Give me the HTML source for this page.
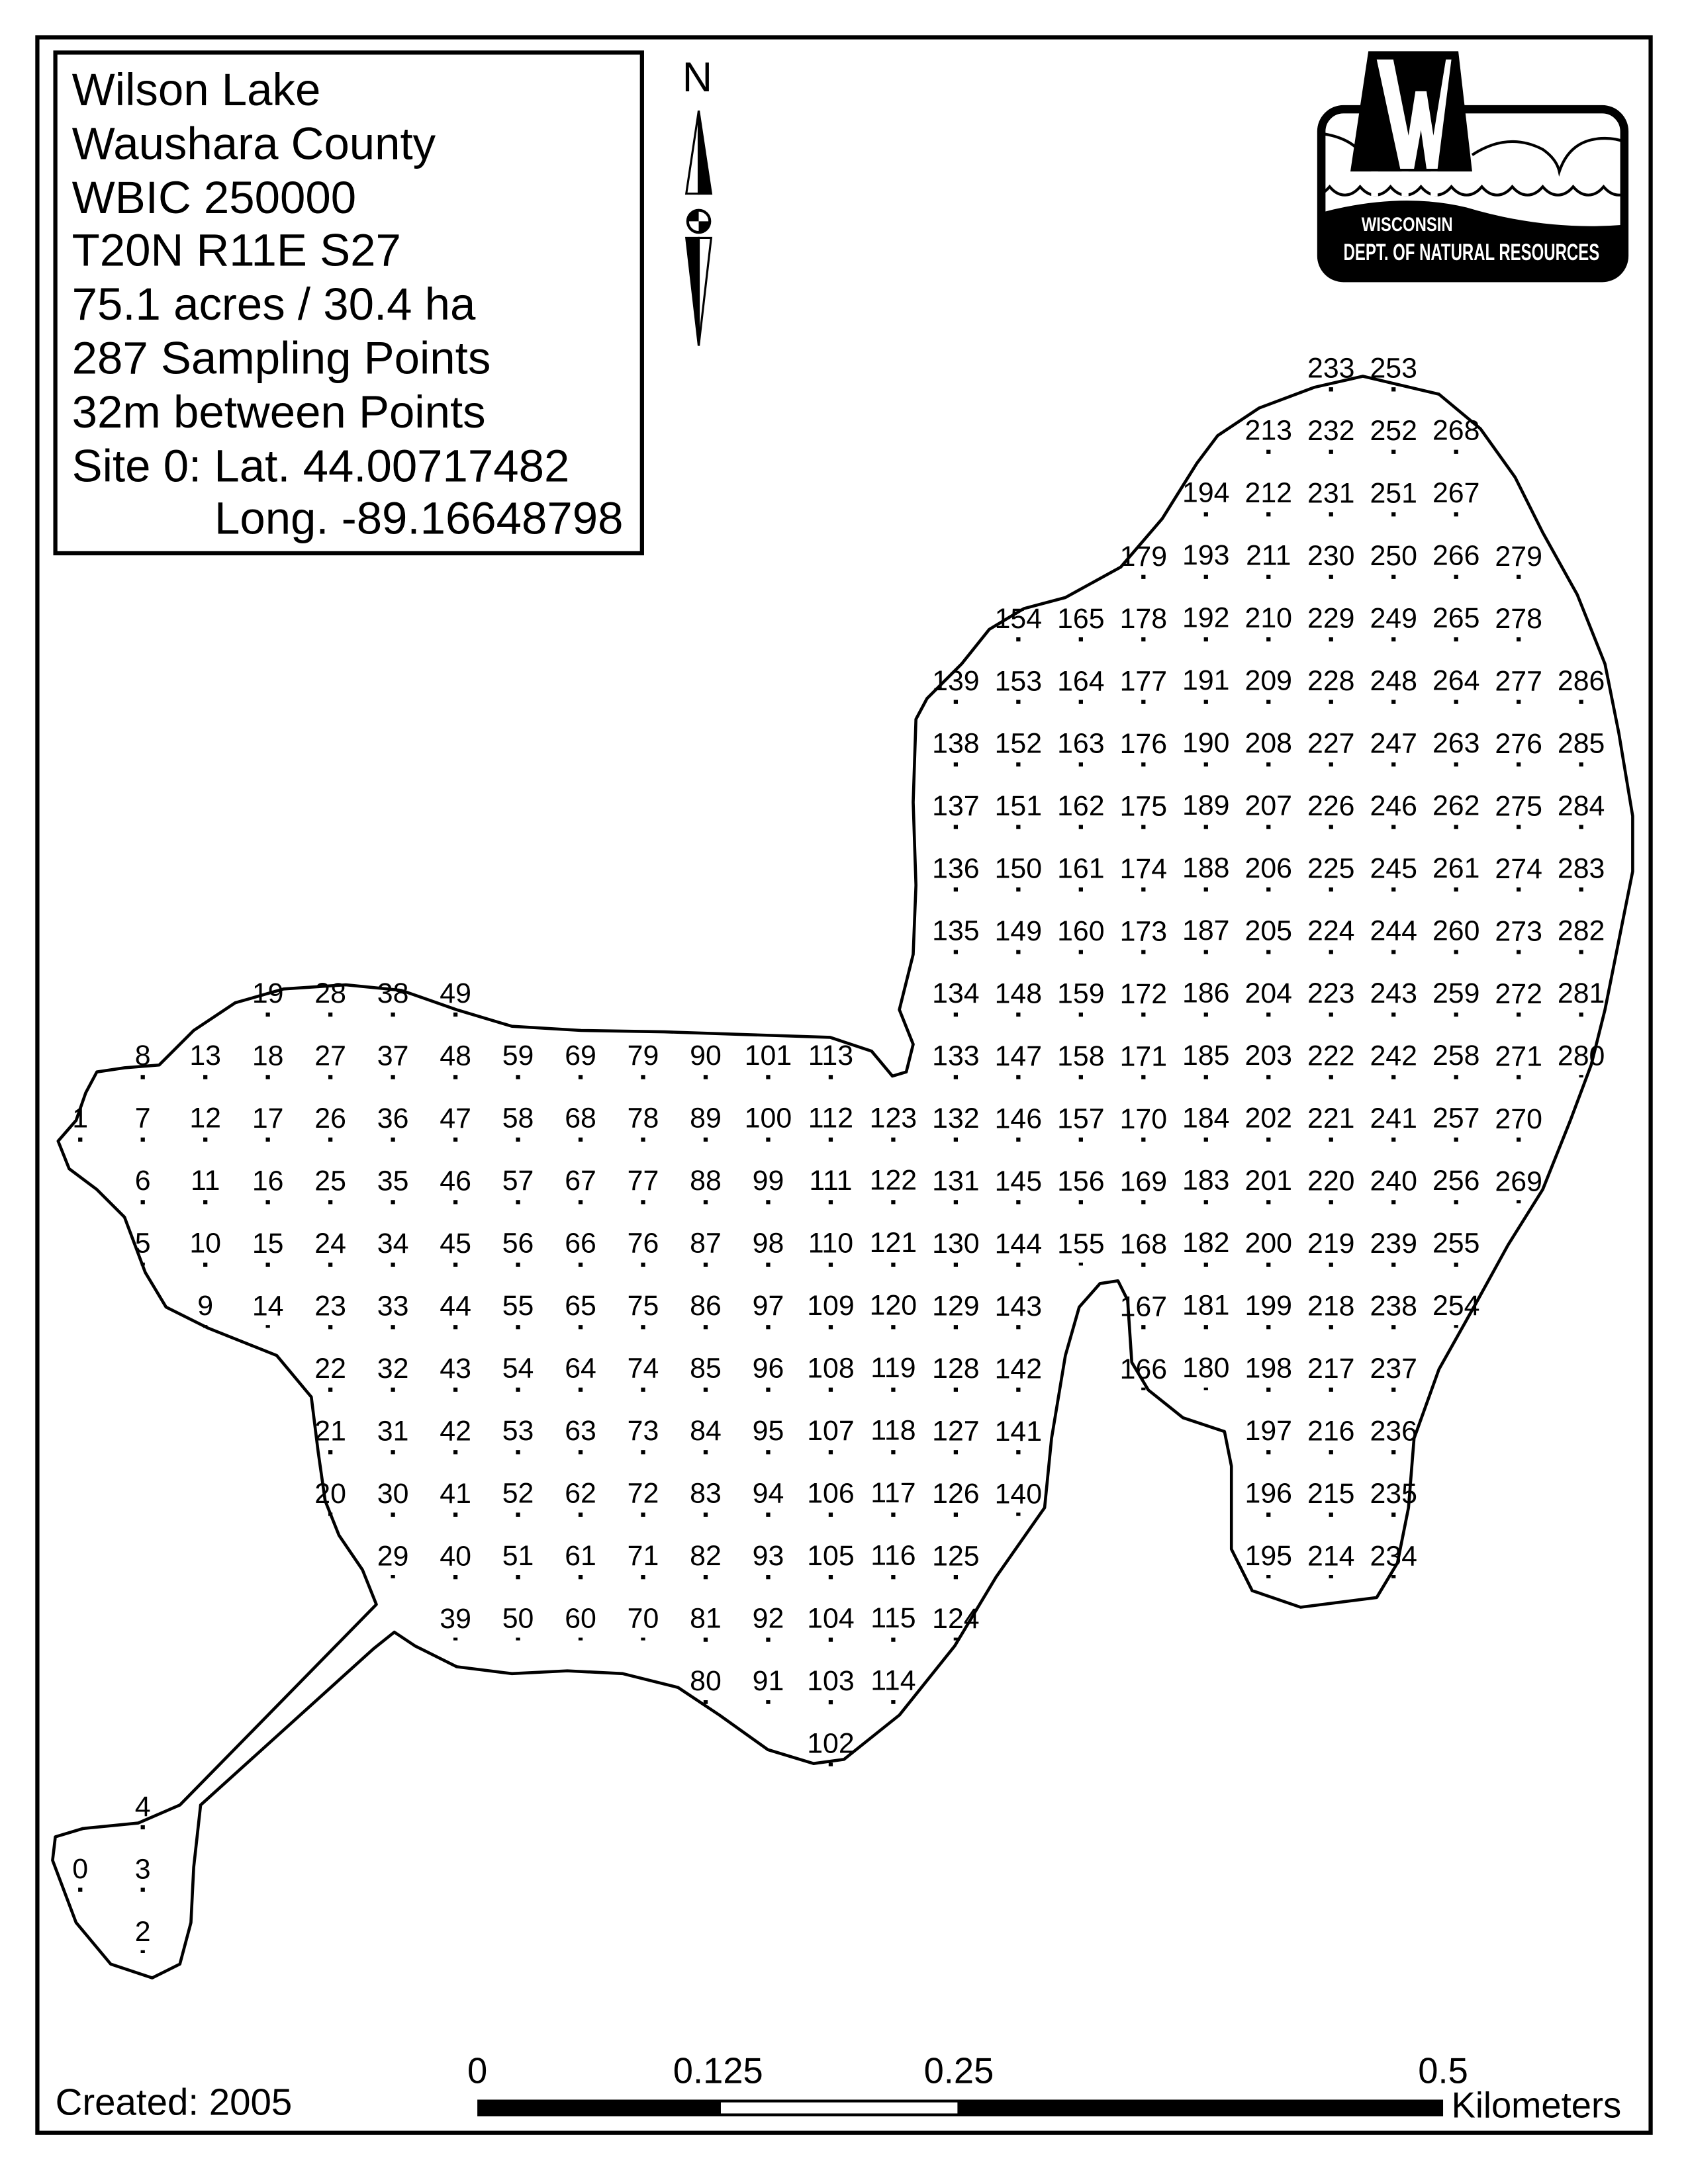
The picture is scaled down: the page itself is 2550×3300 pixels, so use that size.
<!DOCTYPE html>
<html><head><meta charset="utf-8"><style>
html,body{margin:0;padding:0;background:#fff}
svg{display:block}
text{font-family:"Liberation Sans",sans-serif;fill:#000}
.n{font-size:20.5px;text-anchor:middle}
.d{stroke:#000;stroke-width:3;stroke-dasharray:3 42.2;fill:none}
</style></head><body>
<svg width="2550" height="3300" viewBox="0 0 1220 1579" preserveAspectRatio="none" xmlns="http://www.w3.org/2000/svg">
<defs><clipPath id="lc"><rect x="955" y="79" width="219" height="122" rx="16"/></clipPath></defs>
<rect x="0" y="0" width="1220" height="1579" fill="#fff"/>
<rect x="27" y="27" width="1166" height="1515" fill="none" stroke="#000" stroke-width="3"/>
<!-- legend -->
<rect x="40" y="38" width="424" height="362" fill="none" stroke="#000" stroke-width="3"/>
<g style="font-size:33px">
<text x="52" y="76">Wilson Lake</text>
<text x="52" y="115">Waushara County</text>
<text x="52" y="154">WBIC 250000</text>
<text x="52" y="192">T20N R11E S27</text>
<text x="52" y="231">75.1 acres / 30.4 ha</text>
<text x="52" y="270">287 Sampling Points</text>
<text x="52" y="309">32m between Points</text>
<text x="52" y="348">Site 0: Lat. 44.00717482</text>
<text x="155" y="386">Long. -89.16648798</text>
</g>
<!-- north arrow -->
<text x="504" y="66" style="font-size:30px;text-anchor:middle">N</text>
<polygon points="505,80 496,140 505,140" fill="#fff" stroke="#000" stroke-width="1.5"/>
<polygon points="505,80 514,140 505,140" fill="#000" stroke="#000" stroke-width="1.5"/>
<polygon points="505,250 496,172 505,172" fill="#000" stroke="#000" stroke-width="1.5"/>
<polygon points="505,250 514,172 505,172" fill="#fff" stroke="#000" stroke-width="1.5"/>
<circle cx="505" cy="160" r="8" fill="#fff" stroke="#000" stroke-width="2"/>
<path d="M505 160 L513 160 A8 8 0 0 1 505 168Z M505 160 L497 160 A8 8 0 0 1 505 152Z" fill="#000"/>
<!-- logo -->
<rect x="955" y="79" width="219" height="122" rx="16" fill="#fff"/>
<g clip-path="url(#lc)">
<path d="M950 96 Q975 98 985 112 M1064 112 Q1090 95 1115 108 Q1125 115 1127 124 Q1135 100 1160 100 Q1170 100 1177 104" fill="none" stroke="#000" stroke-width="2"/>
<path d="M950 141 Q956 141 961 135 Q966 141 972 141 Q978 141 983 135 Q988 141 994 141 Q1000 141 1005 135 Q1010 141 1016 141 Q1022 141 1027 135 Q1032 141 1038 141 Q1044 141 1049 135 Q1054 141 1060 141 Q1066 141 1071 135 Q1076 141 1082 141 Q1088 141 1093 135 Q1098 141 1104 141 Q1110 141 1115 135 Q1120 141 1126 141 Q1132 141 1137 135 Q1142 141 1148 141 Q1154 141 1159 135 Q1164 141 1170 141 L1180 141" fill="none" stroke="#000" stroke-width="2"/>
<path d="M950 155 Q1010 138 1060 150 Q1120 168 1180 162 L1180 210 L950 210 Z" fill="#000"/>
</g>
<rect x="955" y="79" width="219" height="122" rx="16" fill="none" stroke="#000" stroke-width="6"/>
<polygon points="989,37 1054,37 1064,124 976,124" fill="#000"/>
<polygon points="995,43 1007,43 1018,98 1023,66 1031,66 1036,98 1045,43 1049,43 1039,122 1031,122 1027,94 1022,122 1012,122" fill="#fff"/>
<rect x="991" y="124" width="5" height="18" fill="#fff"/><rect x="1013" y="124" width="5" height="18" fill="#fff"/><rect x="1034" y="124" width="5" height="18" fill="#fff"/>
<text x="1017" y="167" textLength="66" lengthAdjust="spacingAndGlyphs" style="font-size:14px;font-weight:bold;fill:#fff;text-anchor:middle">WISCONSIN</text>
<text x="971" y="188" textLength="185" lengthAdjust="spacingAndGlyphs" style="font-size:17px;font-weight:bold;fill:#fff">DEPT. OF NATURAL RESOURCES</text>
<!-- lake -->
<path fill="none" stroke="#000" stroke-width="2.2" stroke-linejoin="round" d="M985,272 L1040,285 L1070,310 L1095,345 L1115,385 L1140,430 L1160,480 L1170,530 L1180,590 L1180,630 L1170,680 L1160,730 L1150,770 L1135,810 L1115,860 L1090,900 L1068,940 L1040,990 L1022,1040 L1018,1090 L1010,1130 L995,1155 L940,1162 L905,1150 L890,1120 L890,1060 L885,1035 L855,1025 L830,1005 L818,985 L815,940 L808,926 L795,928 L780,945 L770,980 L760,1040 L755,1090 L720,1140 L690,1190 L650,1240 L610,1272 L588,1275 L555,1265 L520,1240 L490,1220 L450,1210 L410,1208 L370,1210 L330,1205 L300,1190 L285,1180 L270,1192 L145,1305 L140,1350 L138,1390 L130,1420 L110,1430 L80,1420 L55,1390 L38,1345 L40,1328 L60,1322 L100,1318 L130,1305 L272,1160 L262,1135 L245,1110 L235,1085 L230,1050 L225,1010 L200,980 L150,960 L120,945 L105,920 L90,880 L70,860 L50,845 L42,825 L55,810 L62,790 L70,775 L90,772 L115,770 L140,745 L170,725 L205,715 L250,712 L290,716 L330,730 L370,742 L420,745 L480,746 L540,748 L600,750 L630,760 L645,778 L655,775 L660,755 L650,730 L660,690 L662,640 L660,580 L662,520 L670,505 L695,480 L715,455 L740,440 L770,432 L810,410 L840,375 L865,335 L880,315 L910,295 L950,280 Z"/>
<!-- dots -->
<rect x="56.5" y="822.4" width="3" height="3"/><rect x="56.5" y="1364.8" width="3" height="3"/>
<line class="d" x1="103.2" y1="777.2" x2="103.2" y2="915"/>
<line class="d" x1="103.2" y1="1319.6" x2="103.2" y2="1412"/>
<line class="d" x1="148.4" y1="777.2" x2="148.4" y2="960"/>
<line class="d" x1="193.6" y1="732" x2="193.6" y2="960"/>
<line class="d" x1="238.8" y1="732" x2="238.8" y2="1096"/>
<line class="d" x1="284" y1="732" x2="284" y2="1141"/>
<line class="d" x1="329.2" y1="732" x2="329.2" y2="1186"/>
<line class="d" x1="374.4" y1="777.2" x2="374.4" y2="1186"/>
<line class="d" x1="419.6" y1="777.2" x2="419.6" y2="1186"/>
<line class="d" x1="464.8" y1="777.2" x2="464.8" y2="1186"/>
<line class="d" x1="510" y1="777.2" x2="510" y2="1232"/>
<line class="d" x1="555.2" y1="777.2" x2="555.2" y2="1232"/>
<line class="d" x1="600.4" y1="777.2" x2="600.4" y2="1277"/>
<line class="d" x1="645.6" y1="822.4" x2="645.6" y2="1232"/>
<line class="d" x1="690.8" y1="506" x2="690.8" y2="1186"/>
<line class="d" x1="736" y1="460.8" x2="736" y2="1096"/>
<line class="d" x1="781.2" y1="460.8" x2="781.2" y2="915"/>
<line class="d" x1="826.4" y1="415.6" x2="826.4" y2="1005"/>
<line class="d" x1="871.6" y1="370.4" x2="871.6" y2="1005"/>
<line class="d" x1="916.8" y1="325.2" x2="916.8" y2="1141"/>
<line class="d" x1="962" y1="280" x2="962" y2="1141"/>
<line class="d" x1="1007.2" y1="280" x2="1007.2" y2="1141"/>
<line class="d" x1="1052.4" y1="325.2" x2="1052.4" y2="960"/>
<line class="d" x1="1097.6" y1="415.6" x2="1097.6" y2="870"/>
<line class="d" x1="1142.8" y1="506" x2="1142.8" y2="779"/>
<!-- labels -->
<g class="n">
<text x="58" y="815">1</text><text x="58" y="1358">0</text>
<text y="770"><tspan x="103.2">8</tspan><tspan x="103.2" dy="45.2">7</tspan><tspan x="103.2" dy="45.2">6</tspan><tspan x="103.2" dy="45.2">5</tspan></text>
<text y="1313"><tspan x="103.2">4</tspan><tspan x="103.2" dy="45.2">3</tspan><tspan x="103.2" dy="45.2">2</tspan></text>
<text y="770"><tspan x="148.4">13</tspan><tspan x="148.4" dy="45.2">12</tspan><tspan x="148.4" dy="45.2">11</tspan><tspan x="148.4" dy="45.2">10</tspan><tspan x="148.4" dy="45.2">9</tspan></text>
<text y="725"><tspan x="193.6">19</tspan><tspan x="193.6" dy="45.2">18</tspan><tspan x="193.6" dy="45.2">17</tspan><tspan x="193.6" dy="45.2">16</tspan><tspan x="193.6" dy="45.2">15</tspan><tspan x="193.6" dy="45.2">14</tspan></text>
<text y="725"><tspan x="238.8">28</tspan><tspan x="238.8" dy="45.2">27</tspan><tspan x="238.8" dy="45.2">26</tspan><tspan x="238.8" dy="45.2">25</tspan><tspan x="238.8" dy="45.2">24</tspan><tspan x="238.8" dy="45.2">23</tspan><tspan x="238.8" dy="45.2">22</tspan><tspan x="238.8" dy="45.2">21</tspan><tspan x="238.8" dy="45.2">20</tspan></text>
<text y="725"><tspan x="284">38</tspan><tspan x="284" dy="45.2">37</tspan><tspan x="284" dy="45.2">36</tspan><tspan x="284" dy="45.2">35</tspan><tspan x="284" dy="45.2">34</tspan><tspan x="284" dy="45.2">33</tspan><tspan x="284" dy="45.2">32</tspan><tspan x="284" dy="45.2">31</tspan><tspan x="284" dy="45.2">30</tspan><tspan x="284" dy="45.2">29</tspan></text>
<text y="725"><tspan x="329.2">49</tspan><tspan x="329.2" dy="45.2">48</tspan><tspan x="329.2" dy="45.2">47</tspan><tspan x="329.2" dy="45.2">46</tspan><tspan x="329.2" dy="45.2">45</tspan><tspan x="329.2" dy="45.2">44</tspan><tspan x="329.2" dy="45.2">43</tspan><tspan x="329.2" dy="45.2">42</tspan><tspan x="329.2" dy="45.2">41</tspan><tspan x="329.2" dy="45.2">40</tspan><tspan x="329.2" dy="45.2">39</tspan></text>
<text y="770"><tspan x="374.4">59</tspan><tspan x="374.4" dy="45.2">58</tspan><tspan x="374.4" dy="45.2">57</tspan><tspan x="374.4" dy="45.2">56</tspan><tspan x="374.4" dy="45.2">55</tspan><tspan x="374.4" dy="45.2">54</tspan><tspan x="374.4" dy="45.2">53</tspan><tspan x="374.4" dy="45.2">52</tspan><tspan x="374.4" dy="45.2">51</tspan><tspan x="374.4" dy="45.2">50</tspan></text>
<text y="770"><tspan x="419.6">69</tspan><tspan x="419.6" dy="45.2">68</tspan><tspan x="419.6" dy="45.2">67</tspan><tspan x="419.6" dy="45.2">66</tspan><tspan x="419.6" dy="45.2">65</tspan><tspan x="419.6" dy="45.2">64</tspan><tspan x="419.6" dy="45.2">63</tspan><tspan x="419.6" dy="45.2">62</tspan><tspan x="419.6" dy="45.2">61</tspan><tspan x="419.6" dy="45.2">60</tspan></text>
<text y="770"><tspan x="464.8">79</tspan><tspan x="464.8" dy="45.2">78</tspan><tspan x="464.8" dy="45.2">77</tspan><tspan x="464.8" dy="45.2">76</tspan><tspan x="464.8" dy="45.2">75</tspan><tspan x="464.8" dy="45.2">74</tspan><tspan x="464.8" dy="45.2">73</tspan><tspan x="464.8" dy="45.2">72</tspan><tspan x="464.8" dy="45.2">71</tspan><tspan x="464.8" dy="45.2">70</tspan></text>
<text y="770"><tspan x="510">90</tspan><tspan x="510" dy="45.2">89</tspan><tspan x="510" dy="45.2">88</tspan><tspan x="510" dy="45.2">87</tspan><tspan x="510" dy="45.2">86</tspan><tspan x="510" dy="45.2">85</tspan><tspan x="510" dy="45.2">84</tspan><tspan x="510" dy="45.2">83</tspan><tspan x="510" dy="45.2">82</tspan><tspan x="510" dy="45.2">81</tspan><tspan x="510" dy="45.2">80</tspan></text>
<text y="770"><tspan x="555.2">101</tspan><tspan x="555.2" dy="45.2">100</tspan><tspan x="555.2" dy="45.2">99</tspan><tspan x="555.2" dy="45.2">98</tspan><tspan x="555.2" dy="45.2">97</tspan><tspan x="555.2" dy="45.2">96</tspan><tspan x="555.2" dy="45.2">95</tspan><tspan x="555.2" dy="45.2">94</tspan><tspan x="555.2" dy="45.2">93</tspan><tspan x="555.2" dy="45.2">92</tspan><tspan x="555.2" dy="45.2">91</tspan></text>
<text y="770"><tspan x="600.4">113</tspan><tspan x="600.4" dy="45.2">112</tspan><tspan x="600.4" dy="45.2">111</tspan><tspan x="600.4" dy="45.2">110</tspan><tspan x="600.4" dy="45.2">109</tspan><tspan x="600.4" dy="45.2">108</tspan><tspan x="600.4" dy="45.2">107</tspan><tspan x="600.4" dy="45.2">106</tspan><tspan x="600.4" dy="45.2">105</tspan><tspan x="600.4" dy="45.2">104</tspan><tspan x="600.4" dy="45.2">103</tspan><tspan x="600.4" dy="45.2">102</tspan></text>
<text y="815"><tspan x="645.6">123</tspan><tspan x="645.6" dy="45.2">122</tspan><tspan x="645.6" dy="45.2">121</tspan><tspan x="645.6" dy="45.2">120</tspan><tspan x="645.6" dy="45.2">119</tspan><tspan x="645.6" dy="45.2">118</tspan><tspan x="645.6" dy="45.2">117</tspan><tspan x="645.6" dy="45.2">116</tspan><tspan x="645.6" dy="45.2">115</tspan><tspan x="645.6" dy="45.2">114</tspan></text>
<text y="499"><tspan x="690.8">139</tspan><tspan x="690.8" dy="45.2">138</tspan><tspan x="690.8" dy="45.2">137</tspan><tspan x="690.8" dy="45.2">136</tspan><tspan x="690.8" dy="45.2">135</tspan><tspan x="690.8" dy="45.2">134</tspan><tspan x="690.8" dy="45.2">133</tspan><tspan x="690.8" dy="45.2">132</tspan><tspan x="690.8" dy="45.2">131</tspan><tspan x="690.8" dy="45.2">130</tspan><tspan x="690.8" dy="45.2">129</tspan><tspan x="690.8" dy="45.2">128</tspan><tspan x="690.8" dy="45.2">127</tspan><tspan x="690.8" dy="45.2">126</tspan><tspan x="690.8" dy="45.2">125</tspan><tspan x="690.8" dy="45.2">124</tspan></text>
<text y="454"><tspan x="736">154</tspan><tspan x="736" dy="45.2">153</tspan><tspan x="736" dy="45.2">152</tspan><tspan x="736" dy="45.2">151</tspan><tspan x="736" dy="45.2">150</tspan><tspan x="736" dy="45.2">149</tspan><tspan x="736" dy="45.2">148</tspan><tspan x="736" dy="45.2">147</tspan><tspan x="736" dy="45.2">146</tspan><tspan x="736" dy="45.2">145</tspan><tspan x="736" dy="45.2">144</tspan><tspan x="736" dy="45.2">143</tspan><tspan x="736" dy="45.2">142</tspan><tspan x="736" dy="45.2">141</tspan><tspan x="736" dy="45.2">140</tspan></text>
<text y="454"><tspan x="781.2">165</tspan><tspan x="781.2" dy="45.2">164</tspan><tspan x="781.2" dy="45.2">163</tspan><tspan x="781.2" dy="45.2">162</tspan><tspan x="781.2" dy="45.2">161</tspan><tspan x="781.2" dy="45.2">160</tspan><tspan x="781.2" dy="45.2">159</tspan><tspan x="781.2" dy="45.2">158</tspan><tspan x="781.2" dy="45.2">157</tspan><tspan x="781.2" dy="45.2">156</tspan><tspan x="781.2" dy="45.2">155</tspan></text>
<text y="409"><tspan x="826.4">179</tspan><tspan x="826.4" dy="45.2">178</tspan><tspan x="826.4" dy="45.2">177</tspan><tspan x="826.4" dy="45.2">176</tspan><tspan x="826.4" dy="45.2">175</tspan><tspan x="826.4" dy="45.2">174</tspan><tspan x="826.4" dy="45.2">173</tspan><tspan x="826.4" dy="45.2">172</tspan><tspan x="826.4" dy="45.2">171</tspan><tspan x="826.4" dy="45.2">170</tspan><tspan x="826.4" dy="45.2">169</tspan><tspan x="826.4" dy="45.2">168</tspan><tspan x="826.4" dy="45.2">167</tspan><tspan x="826.4" dy="45.2">166</tspan></text>
<text y="363"><tspan x="871.6">194</tspan><tspan x="871.6" dy="45.2">193</tspan><tspan x="871.6" dy="45.2">192</tspan><tspan x="871.6" dy="45.2">191</tspan><tspan x="871.6" dy="45.2">190</tspan><tspan x="871.6" dy="45.2">189</tspan><tspan x="871.6" dy="45.2">188</tspan><tspan x="871.6" dy="45.2">187</tspan><tspan x="871.6" dy="45.2">186</tspan><tspan x="871.6" dy="45.2">185</tspan><tspan x="871.6" dy="45.2">184</tspan><tspan x="871.6" dy="45.2">183</tspan><tspan x="871.6" dy="45.2">182</tspan><tspan x="871.6" dy="45.2">181</tspan><tspan x="871.6" dy="45.2">180</tspan></text>
<text y="318"><tspan x="916.8">213</tspan><tspan x="916.8" dy="45.2">212</tspan><tspan x="916.8" dy="45.2">211</tspan><tspan x="916.8" dy="45.2">210</tspan><tspan x="916.8" dy="45.2">209</tspan><tspan x="916.8" dy="45.2">208</tspan><tspan x="916.8" dy="45.2">207</tspan><tspan x="916.8" dy="45.2">206</tspan><tspan x="916.8" dy="45.2">205</tspan><tspan x="916.8" dy="45.2">204</tspan><tspan x="916.8" dy="45.2">203</tspan><tspan x="916.8" dy="45.2">202</tspan><tspan x="916.8" dy="45.2">201</tspan><tspan x="916.8" dy="45.2">200</tspan><tspan x="916.8" dy="45.2">199</tspan><tspan x="916.8" dy="45.2">198</tspan><tspan x="916.8" dy="45.2">197</tspan><tspan x="916.8" dy="45.2">196</tspan><tspan x="916.8" dy="45.2">195</tspan></text>
<text y="273"><tspan x="962">233</tspan><tspan x="962" dy="45.2">232</tspan><tspan x="962" dy="45.2">231</tspan><tspan x="962" dy="45.2">230</tspan><tspan x="962" dy="45.2">229</tspan><tspan x="962" dy="45.2">228</tspan><tspan x="962" dy="45.2">227</tspan><tspan x="962" dy="45.2">226</tspan><tspan x="962" dy="45.2">225</tspan><tspan x="962" dy="45.2">224</tspan><tspan x="962" dy="45.2">223</tspan><tspan x="962" dy="45.2">222</tspan><tspan x="962" dy="45.2">221</tspan><tspan x="962" dy="45.2">220</tspan><tspan x="962" dy="45.2">219</tspan><tspan x="962" dy="45.2">218</tspan><tspan x="962" dy="45.2">217</tspan><tspan x="962" dy="45.2">216</tspan><tspan x="962" dy="45.2">215</tspan><tspan x="962" dy="45.2">214</tspan></text>
<text y="273"><tspan x="1007.2">253</tspan><tspan x="1007.2" dy="45.2">252</tspan><tspan x="1007.2" dy="45.2">251</tspan><tspan x="1007.2" dy="45.2">250</tspan><tspan x="1007.2" dy="45.2">249</tspan><tspan x="1007.2" dy="45.2">248</tspan><tspan x="1007.2" dy="45.2">247</tspan><tspan x="1007.2" dy="45.2">246</tspan><tspan x="1007.2" dy="45.2">245</tspan><tspan x="1007.2" dy="45.2">244</tspan><tspan x="1007.2" dy="45.2">243</tspan><tspan x="1007.2" dy="45.2">242</tspan><tspan x="1007.2" dy="45.2">241</tspan><tspan x="1007.2" dy="45.2">240</tspan><tspan x="1007.2" dy="45.2">239</tspan><tspan x="1007.2" dy="45.2">238</tspan><tspan x="1007.2" dy="45.2">237</tspan><tspan x="1007.2" dy="45.2">236</tspan><tspan x="1007.2" dy="45.2">235</tspan><tspan x="1007.2" dy="45.2">234</tspan></text>
<text y="318"><tspan x="1052.4">268</tspan><tspan x="1052.4" dy="45.2">267</tspan><tspan x="1052.4" dy="45.2">266</tspan><tspan x="1052.4" dy="45.2">265</tspan><tspan x="1052.4" dy="45.2">264</tspan><tspan x="1052.4" dy="45.2">263</tspan><tspan x="1052.4" dy="45.2">262</tspan><tspan x="1052.4" dy="45.2">261</tspan><tspan x="1052.4" dy="45.2">260</tspan><tspan x="1052.4" dy="45.2">259</tspan><tspan x="1052.4" dy="45.2">258</tspan><tspan x="1052.4" dy="45.2">257</tspan><tspan x="1052.4" dy="45.2">256</tspan><tspan x="1052.4" dy="45.2">255</tspan><tspan x="1052.4" dy="45.2">254</tspan></text>
<text y="409"><tspan x="1097.6">279</tspan><tspan x="1097.6" dy="45.2">278</tspan><tspan x="1097.6" dy="45.2">277</tspan><tspan x="1097.6" dy="45.2">276</tspan><tspan x="1097.6" dy="45.2">275</tspan><tspan x="1097.6" dy="45.2">274</tspan><tspan x="1097.6" dy="45.2">273</tspan><tspan x="1097.6" dy="45.2">272</tspan><tspan x="1097.6" dy="45.2">271</tspan><tspan x="1097.6" dy="45.2">270</tspan><tspan x="1097.6" dy="45.2">269</tspan></text>
<text y="499"><tspan x="1142.8">286</tspan><tspan x="1142.8" dy="45.2">285</tspan><tspan x="1142.8" dy="45.2">284</tspan><tspan x="1142.8" dy="45.2">283</tspan><tspan x="1142.8" dy="45.2">282</tspan><tspan x="1142.8" dy="45.2">281</tspan><tspan x="1142.8" dy="45.2">280</tspan></text>
</g>
<!-- scale bar -->
<rect x="345" y="1518" width="698" height="12" fill="#000"/>
<rect x="521" y="1520" width="171" height="8" fill="#fff"/>
<g style="font-size:26px;text-anchor:middle">
<text x="345" y="1506">0</text>
<text x="519" y="1506">0.125</text>
<text x="693" y="1506">0.25</text>
<text x="1043" y="1506">0.5</text>
</g>
<text x="1049" y="1531" style="font-size:26px">Kilometers</text>
<text x="40" y="1529" style="font-size:27px">Created: 2005</text>
</svg>
</body></html>
